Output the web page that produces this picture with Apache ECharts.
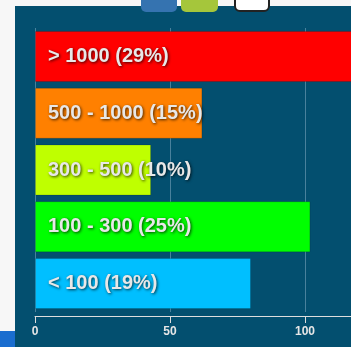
<!DOCTYPE html>
<html>
<head>
<meta charset="utf-8">
<style>
  html, body { margin: 0; padding: 0; background: #f7f7f7; overflow: hidden; width: 351px; height: 347px; }
  #chart { width: 500px; height: 347px; }
</style>
<script src="https://cdn.jsdelivr.net/npm/echarts@6/dist/echarts.min.js"></script>
</head>
<body>
<div id="chart"></div>
<script>
// Price bands, top to bottom
const categories = ['> 1000', '500 - 1000', '300 - 500', '100 - 300', '< 100'];
// Counts per band
const counts = [118, 62, 43, 102, 80];
// Fill colour of each band
const bandColors = ['#ff0000', '#ff8000', '#bfff00', '#00ff00', '#00bfff'];
// Value axis ticks
const axisTicks = [0, 50, 100, 150];

const total = counts.reduce((a, b) => a + b, 0);
const pct = v => Math.floor(v / total * 100);

const chart = echarts.init(document.getElementById('chart'));

chart.setOption({
  backgroundColor: '#f7f7f7',
  animation: false,
  graphic: [
    { type: 'rect', z: -10, shape: { x: 15, y: 6, width: 500, height: 400 }, style: { fill: '#034f6f' } },
    { type: 'rect', z: -10, shape: { x: 0, y: 331, width: 15, height: 16 }, style: { fill: '#1a6dcf' } },
    // legend swatches along the top edge
    { type: 'rect', z: 10, shape: { x: 141, y: -8, width: 36, height: 20, r: 5 }, style: { fill: '#3573b0' } },
    { type: 'rect', z: 10, shape: { x: 181, y: -8, width: 37, height: 20, r: 5 }, style: { fill: '#a5c63b' } },
    { type: 'rect', z: 10, shape: { x: 235, y: -8, width: 34, height: 19, r: 5 }, style: { fill: '#ffffff', stroke: '#222222', lineWidth: 2 } }
  ],
  grid: { left: 35, top: 28, width: 405, height: 284 },
  xAxis: {
    type: 'value',
    min: axisTicks[0],
    max: axisTicks[axisTicks.length - 1],
    interval: axisTicks[1] - axisTicks[0],
    offset: 4,
    axisLine: { show: true, lineStyle: { color: '#dddddd', width: 1 } },
    axisTick: { show: true, length: 7, lineStyle: { color: '#dddddd' } },
    axisLabel: {
      color: '#e6e6e6', fontSize: 12, fontWeight: 'bold',
      fontFamily: '"Liberation Sans", Arial, sans-serif', margin: 10
    },
    splitLine: { show: true, lineStyle: { color: 'rgba(160,190,210,0.45)', width: 1 } }
  },
  yAxis: {
    type: 'category',
    data: categories,
    inverse: true,
    axisLine: { show: false },
    axisTick: { show: false },
    axisLabel: { show: false },
    splitLine: { show: false }
  },
  series: [{
    type: 'bar',
    barWidth: 51,
    data: counts.map((v, i) => ({
      value: v,
      itemStyle: { color: bandColors[i], borderColor: 'rgba(0,0,0,0.15)', borderWidth: 1 }
    })),
    label: {
      show: true,
      position: 'insideLeft',
      distance: 13,
      formatter: p => categories[p.dataIndex] + ' (' + pct(p.value) + '%)',
      color: '#e8e8e8',
      fontSize: 20,
      fontWeight: 'bold',
      fontFamily: '"Liberation Sans", Arial, sans-serif',
      textShadowColor: 'rgba(0,0,0,0.75)',
      textShadowBlur: 3,
      textShadowOffsetX: 1,
      textShadowOffsetY: 1
    }
  }]
});
</script>
</body>
</html>
